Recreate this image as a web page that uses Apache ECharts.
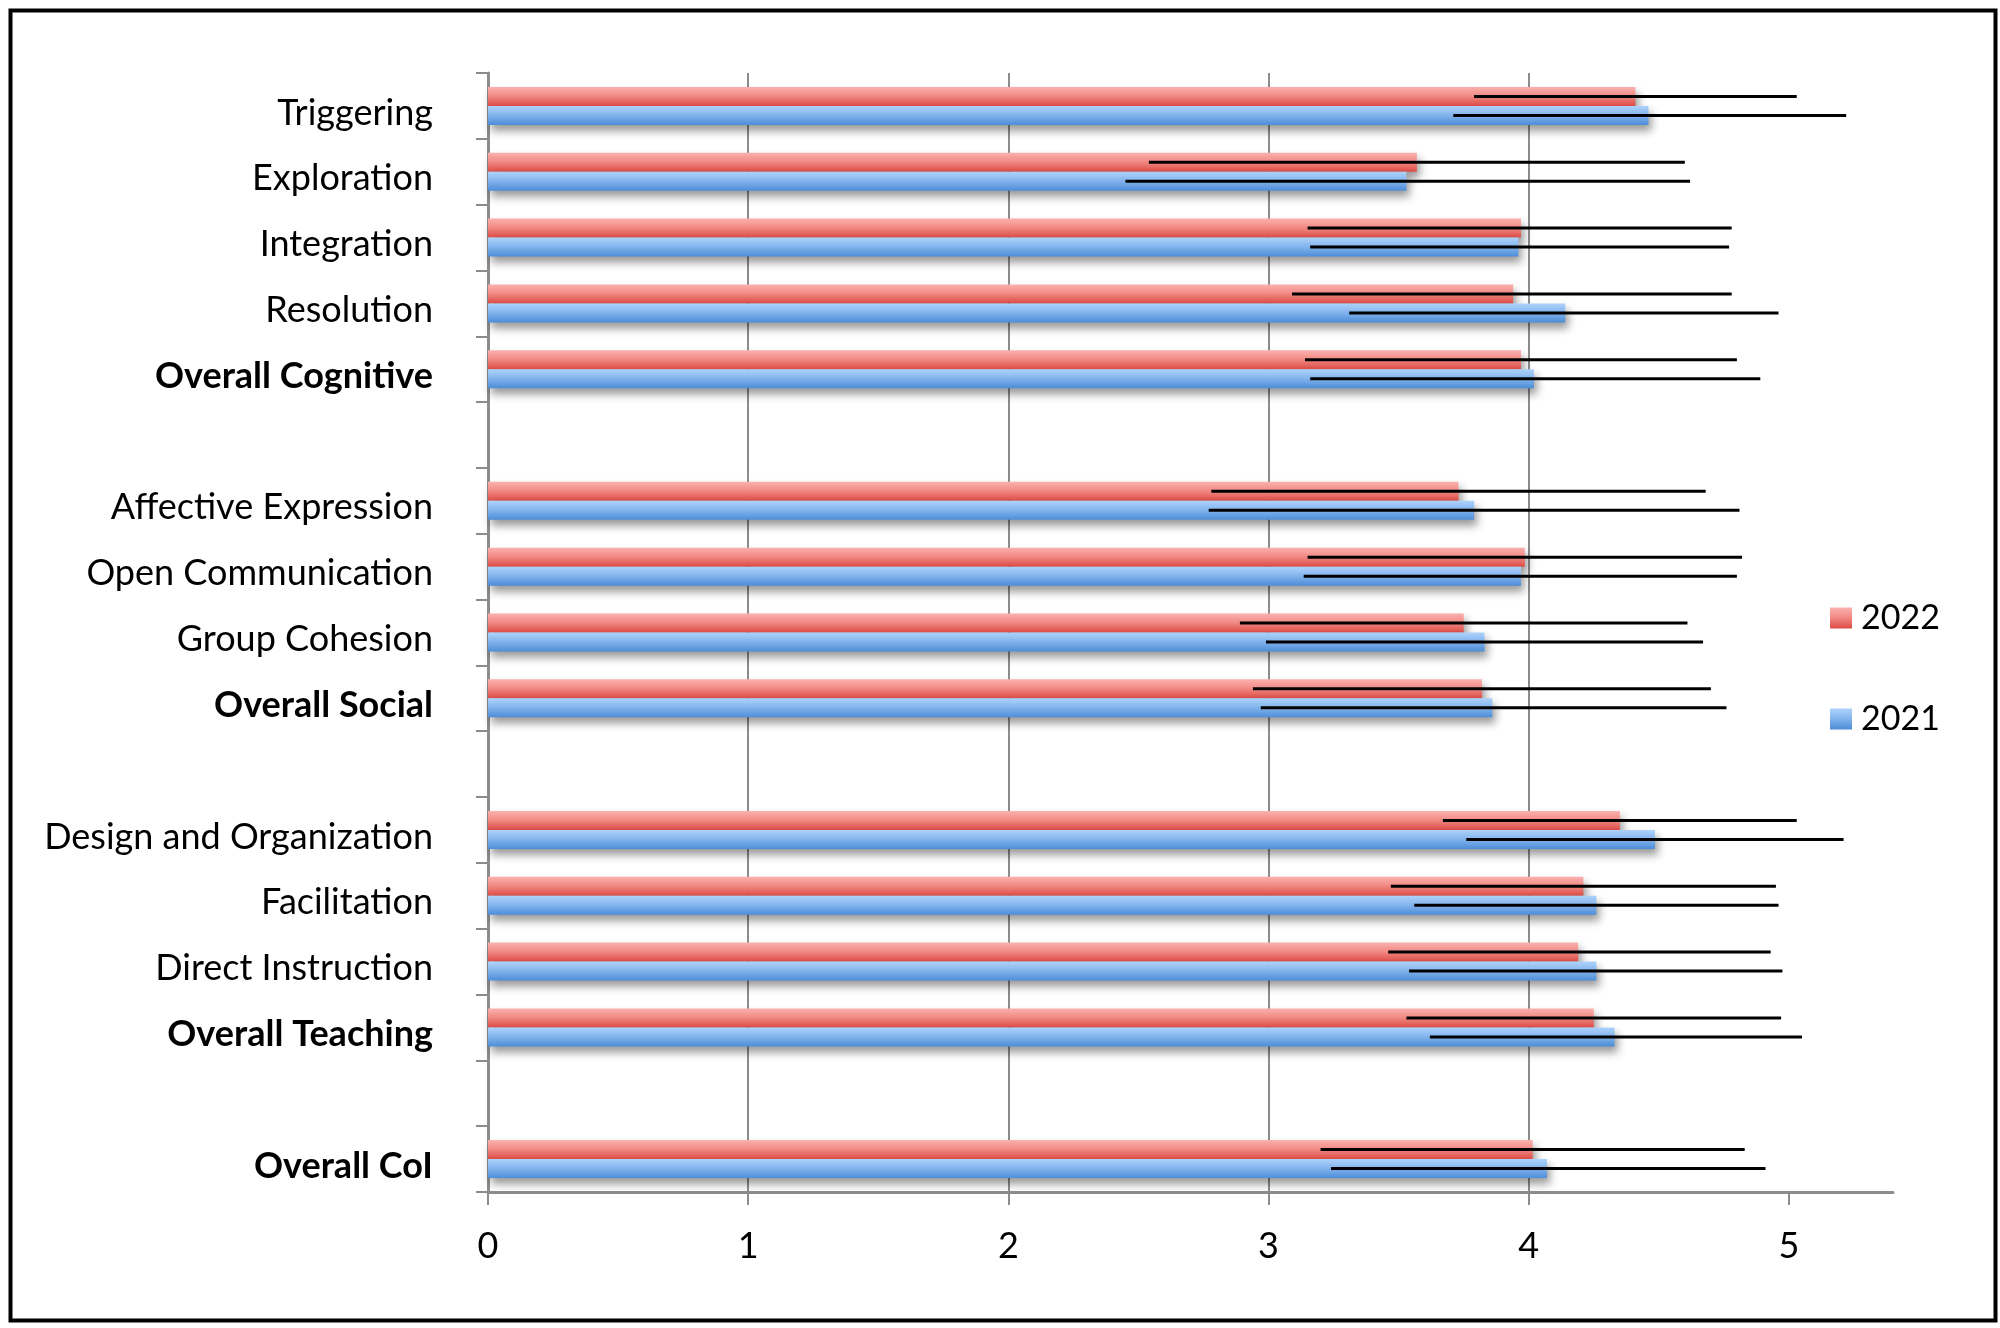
<!DOCTYPE html>
<html>
<head>
<meta charset="utf-8">
<script src="https://cdn.jsdelivr.net/npm/echarts@6/dist/echarts.min.js"></script>
<style>
    html, body { margin: 0; padding: 0; background: #fff; }
    #chart { width: 2000px; height: 1328px; }
</style>
</head>
<body>
<div id="chart"></div>
<script>
// categories, top to bottom (blank rows separate the groups)
const categories = ['Triggering', 'Exploration', 'Integration', 'Resolution', 'Overall Cognitive', '',
    'Affective Expression', 'Open Communication', 'Group Cohesion', 'Overall Social', ' ',
    'Design and Organization', 'Facilitation', 'Direct Instruction', 'Overall Teaching', '  ',
    'Overall CoI']
const boldLabels = ['Overall Cognitive', 'Overall Social', 'Overall Teaching', 'Overall CoI']
const seriesNames = ['2022', '2021']

// means and error bar ends (mean - sd, mean + sd)
const mean2022 = [4.41, 3.57, 3.97, 3.94, 3.97, null, 3.73, 3.985, 3.75, 3.82, null, 4.35, 4.21, 4.19, 4.25, null, 4.015]
const low2022 = [3.79, 2.54, 3.15, 3.09, 3.14, null, 2.78, 3.15, 2.89, 2.94, null, 3.67, 3.47, 3.46, 3.53, null, 3.20]
const high2022 = [5.03, 4.60, 4.78, 4.78, 4.80, null, 4.68, 4.82, 4.61, 4.70, null, 5.03, 4.95, 4.93, 4.97, null, 4.83]
const mean2021 = [4.46, 3.53, 3.96, 4.14, 4.02, null, 3.79, 3.97, 3.83, 3.86, null, 4.485, 4.26, 4.26, 4.33, null, 4.07]
const low2021 = [3.71, 2.45, 3.16, 3.31, 3.16, null, 2.77, 3.135, 2.99, 2.97, null, 3.76, 3.56, 3.54, 3.62, null, 3.24]
const high2021 = [5.22, 4.62, 4.77, 4.96, 4.89, null, 4.81, 4.80, 4.67, 4.76, null, 5.21, 4.96, 4.975, 5.05, null, 4.91]

const xTicks = [0, 1, 2, 3, 4, 5]

const BAR_W = 19
const FONT = 'Lato, "Open Sans", sans-serif'

const redFill = new echarts.graphic.LinearGradient(0, 0, 0, 1, [
    { offset: 0, color: '#fbb1ae' },
    { offset: 0.45, color: '#f28c87' },
    { offset: 1, color: '#dd4c46' }
])
const blueFill = new echarts.graphic.LinearGradient(0, 0, 0, 1, [
    { offset: 0, color: '#aed3fb' },
    { offset: 0.45, color: '#86b6ee' },
    { offset: 1, color: '#4d8dd8' }
])

function errorData(low, high) {
    return categories.map((c, i) => [low[i], high[i], i]).filter(d => d[0] != null)
}

// horizontal error line through the middle of one bar of the pair
function errorBar(offset) {
    return function (params, api) {
        const cat = api.value(2)
        const a = api.coord([api.value(0), cat])
        const b = api.coord([api.value(1), cat])
        return {
            type: 'line',
            shape: { x1: a[0], y1: a[1] + offset, x2: b[0], y2: b[1] + offset },
            style: { stroke: '#000', lineWidth: 3 }
        }
    }
}

const barShadow = {
    shadowBlur: 8,
    shadowOffsetX: 3,
    shadowOffsetY: 6,
    shadowColor: 'rgba(0,0,0,0.4)'
}

const chart = echarts.init(document.getElementById('chart'))
chart.setOption({
    animation: false,
    backgroundColor: '#fff',
    graphic: [{
        type: 'rect',
        left: 8, top: 8,
        shape: { width: 1985, height: 1310 },
        style: { fill: 'none', stroke: '#000', lineWidth: 4 }
    }],
    grid: { left: 488, right: 107, top: 73, bottom: 136 },
    legend: {
        data: seriesNames,
        orient: 'vertical',
        left: 1825,
        top: 596,
        itemWidth: 22,
        itemHeight: 21,
        itemGap: 67,
        icon: 'rect',
        textStyle: { fontFamily: FONT, fontSize: 34, color: '#000', padding: [0, 0, 0, 4] }
    },
    xAxis: {
        type: 'value',
        min: 0,
        max: 5.4,
        interval: 1,
        axisLine: { show: true, lineStyle: { color: '#8c8c8c', width: 3 } },
        axisTick: { show: true, length: 13, customValues: xTicks, lineStyle: { color: '#8c8c8c', width: 2 } },
        axisLabel: { customValues: xTicks, margin: 36, fontFamily: FONT, fontSize: 36, color: '#000' },
        splitLine: { show: true, showMinLine: false, showMaxLine: false, lineStyle: { color: '#8c8c8c', width: 2 } }
    },
    yAxis: {
        type: 'category',
        inverse: true,
        data: categories,
        axisLine: { lineStyle: { color: '#8c8c8c', width: 3 } },
        axisTick: { show: true, length: 12, lineStyle: { color: '#8c8c8c', width: 2 } },
        axisLabel: {
            margin: 55,
            fontFamily: FONT,
            fontSize: 36,
            color: '#000',
            padding: [14, 0, 0, 0],
            formatter: v => boldLabels.includes(v) ? '{b|' + v + '}' : v,
            rich: { b: { fontFamily: FONT, fontSize: 36, fontWeight: 'bold', color: '#000' } }
        }
    },
    series: [
        {
            name: seriesNames[0],
            type: 'bar',
            data: mean2022,
            barWidth: BAR_W,
            barGap: '0%',
            itemStyle: Object.assign({ color: redFill }, barShadow)
        },
        {
            name: seriesNames[1],
            type: 'bar',
            data: mean2021,
            barWidth: BAR_W,
            barGap: '0%',
            itemStyle: Object.assign({ color: blueFill }, barShadow)
        },
        {
            type: 'custom',
            renderItem: errorBar(-BAR_W / 2),
            encode: { x: [0, 1], y: 2 },
            data: errorData(low2022, high2022),
            z: 5
        },
        {
            type: 'custom',
            renderItem: errorBar(BAR_W / 2),
            encode: { x: [0, 1], y: 2 },
            data: errorData(low2021, high2021),
            z: 5
        }
    ]
})
</script>
</body>
</html>
